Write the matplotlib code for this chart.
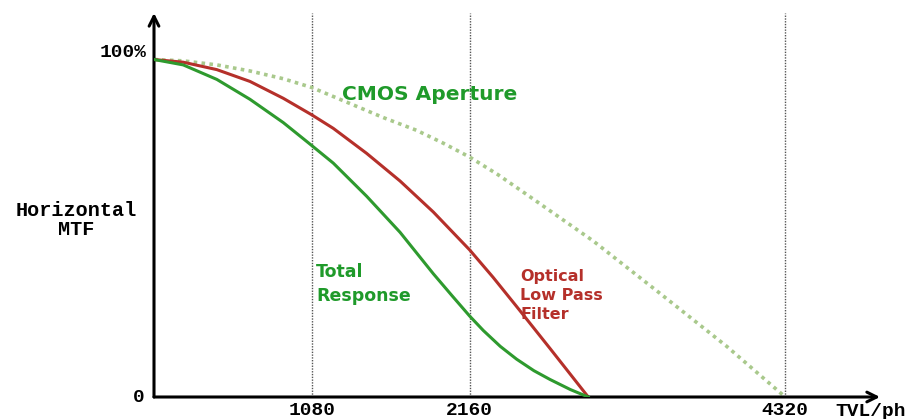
import matplotlib
matplotlib.use("Agg")
import matplotlib.pyplot as plt

# ---- data ----
cmos_x = [0, 200, 430, 657, 885, 1080, 1350, 1569, 1798, 1980, 2160, 2350, 2551, 3007,
          3463, 3920, 4320]
cmos_y = [1.0, 0.996, 0.984, 0.966, 0.943, 0.917, 0.868, 0.828, 0.790, 0.752, 0.711,
          0.660, 0.600, 0.462, 0.307, 0.150, 0.0]

olpf_x = [0, 200, 430, 657, 885, 1080, 1227, 1455, 1684, 1912, 2160, 2320, 2482, 2710,
          2972]
olpf_y = [1.0, 0.992, 0.970, 0.935, 0.885, 0.836, 0.796, 0.722, 0.640, 0.548, 0.436,
          0.355, 0.268, 0.144, 0.0]

total_x = [0, 200, 430, 657, 885, 1080, 1227, 1455, 1684, 1912, 2040, 2160, 2254, 2370,
           2482, 2600, 2710, 2850, 2972]
total_y = [1.0, 0.984, 0.941, 0.882, 0.813, 0.745, 0.693, 0.595, 0.488, 0.365, 0.300,
           0.240, 0.197, 0.150, 0.112, 0.078, 0.052, 0.022, 0.0]

xticks = [1080, 2160, 4320]
xtick_labels = ["1080", "2160", "4320"]

W, H = 915, 419
fig = plt.figure(figsize=(W / 100, H / 100), dpi=100)
x0, y0 = 154, 397
x1, ytop = 880, 13
ax = fig.add_axes([x0 / W, (H - y0) / H, (x1 - x0) / W, (y0 - ytop) / H])
px_per_unit = 157.8 / 1080
xmax = (x1 - x0) / px_per_unit
ymax = (y0 - ytop) / 337.5
ax.set_xlim(0, xmax)
ax.set_ylim(0, ymax)
for s in ax.spines.values():
    s.set_visible(False)
ax.set_xticks([])
ax.set_yticks([])

# vertical reference lines
for xv in xticks:
    ax.plot([xv, xv], [0, ymax], color="#555555", lw=1.0, ls=(0, (1, 1)), zorder=1)

# curves
ax.plot(cmos_x, cmos_y, color="#a9c98c", lw=2.6, ls=(0, (1, 1.2)), zorder=2)
ax.plot(olpf_x, olpf_y, color="#b5302a", lw=2.2, zorder=3, solid_joinstyle="round")
ax.plot(total_x, total_y, color="#2e9a2e", lw=2.2, zorder=4, solid_joinstyle="round")

# axes arrows
arrow = dict(arrowstyle="->,head_length=0.7,head_width=0.35", color="black", lw=2.2,
             shrinkA=0, shrinkB=0)
ax.annotate("", xy=(0, ymax), xytext=(0, 0), arrowprops=arrow, annotation_clip=False)
ax.annotate("", xy=(xmax, 0), xytext=(0, 0), arrowprops=arrow, annotation_clip=False)

mono = ["Liberation Mono"]
fs_mono = 14
# tick labels
for xv, lab in zip(xticks, xtick_labels):
    ax.text(xv, -0.04, lab, ha="center", va="center", fontsize=fs_mono, fontweight="bold",
            family=mono, clip_on=False)
ax.text(-50, 1.02, "100%", ha="right", va="center", fontsize=fs_mono, family=mono,
        fontweight="bold", clip_on=False)
ax.text(-65, 0.0, "0", ha="right", va="center", fontsize=fs_mono, fontweight="bold",
        family=mono, clip_on=False)
fig.text(835 / W, 1 - 411 / H, "TVL/ph", ha="left", va="center", fontsize=fs_mono,
         fontweight="bold", family=mono)
fig.text(76 / W, 1 - 220 / H, "Horizontal\nMTF", ha="center", va="center",
         fontsize=14.5, fontweight="bold", family=mono, linespacing=1.05)

# annotations
sans = ["DejaVu Sans"]
ax.text(1290, 0.895, "CMOS Aperture", color="#1f9a2a", fontsize=14.5, fontweight="bold",
        family=sans, va="center", ha="left")
ax.text(1110, 0.335, "Total\nResponse", color="#1f9a2a", fontsize=12.5, fontweight="bold",
        family=sans, va="center", ha="left", linespacing=1.45)
ax.text(2505, 0.30, "Optical\nLow Pass\nFilter", color="#b5302a", fontsize=11.5,
        fontweight="bold", family=sans, va="center", ha="left", linespacing=1.35)

fig.savefig("out.png", dpi=100, facecolor="white")
